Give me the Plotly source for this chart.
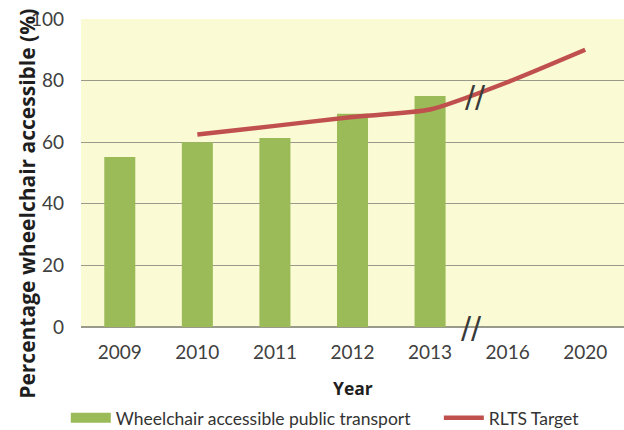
import plotly.graph_objects as go

years = ["2009", "2010", "2011", "2012", "2013", "2016", "2020"]
accessible = [55.2, 60.0, 61.4, 69.2, 75.0, None, None]
rlts_target = [None, 62.5, 65.3, 68.2, 70.6, 79.5, 90.0]

FONT = "Lato, 'Open Sans', sans-serif"
TFONT = "'Open Sans', Lato, sans-serif"
GREEN = "#9BBB59"
RED = "#C0504D"

fig = go.Figure()
fig.add_trace(go.Bar(
    x=years, y=accessible, name="Wheelchair accessible public transport",
    marker=dict(color=GREEN, line=dict(width=0)), width=0.4, showlegend=False,
))
# legend proxy drawn as a wide green swatch like the original
fig.add_trace(go.Scatter(
    x=[None], y=[None], mode="lines", name="Wheelchair accessible public transport",
    line=dict(color=GREEN, width=11), legend="legend",
))
fig.add_trace(go.Scatter(
    x=years, y=rlts_target, name="RLTS Target", mode="lines",
    line=dict(color=RED, width=4.5, shape="spline", smoothing=0.6),
    connectgaps=False, legend="legend2",
))

# axis-break marks
fig.add_annotation(x=4.58, y=74.7, xref="x", yref="y", text="//", showarrow=False,
                   font=dict(size=30, color="#3A3A3A", family="DejaVu Sans"))
fig.add_annotation(x=4.53, y=0, xref="x", yref="paper", yanchor="middle", text="//",
                   showarrow=False, font=dict(size=30, color="#3A3A3A", family="DejaVu Sans"))

# axis titles placed as annotations to match the original's positions
fig.add_annotation(x=-0.0995, y=0.40, xref="paper", yref="paper", textangle=-90,
                   xanchor="center", yanchor="middle",
                   text="<b>Percentage wheelchair accessible (%)</b>", showarrow=False,
                   font=dict(size=21, color="#1E1E1E", family=TFONT))
fig.add_annotation(x=0.5, y=-0.198, xref="paper", yref="paper",
                   xanchor="center", yanchor="middle",
                   text="<b>Year</b>", showarrow=False,
                   font=dict(size=17.5, color="#1E1E1E", family=TFONT))

LEG = dict(orientation="h", y=-0.295, yanchor="middle", xanchor="left",
           font=dict(size=17.5, color="#333333"), bgcolor="rgba(0,0,0,0)", itemwidth=40)

fig.update_layout(
    width=624, height=430,
    margin=dict(l=81, r=0, t=19, b=103, autoexpand=False),
    paper_bgcolor="white", plot_bgcolor="#FAFAD4",
    font=dict(family=FONT, color="#404040"),
    showlegend=True,
    legend=dict(LEG, x=-0.028),
    legend2=dict(LEG, x=0.659),
    bargap=0.6,
)
fig.update_xaxes(type="category", showgrid=False, showline=False, automargin=False,
                 tickfont=dict(size=19, color="#404040"), ticks="", ticklabelstandoff=12)
fig.update_yaxes(range=[0, 100], dtick=20, showgrid=True, gridcolor="#9A9A8C", gridwidth=1.3,
                 zeroline=True, zerolinecolor="#9A9A8C", zerolinewidth=1.5, showline=False,
                 automargin=False,
                 tickfont=dict(size=19, color="#404040"), ticks="", ticklabelstandoff=16)

fig.write_html("out.html", config={"displayModeBar": False},
               post_script="document.body.style.margin='0';document.body.style.overflow='hidden';")
